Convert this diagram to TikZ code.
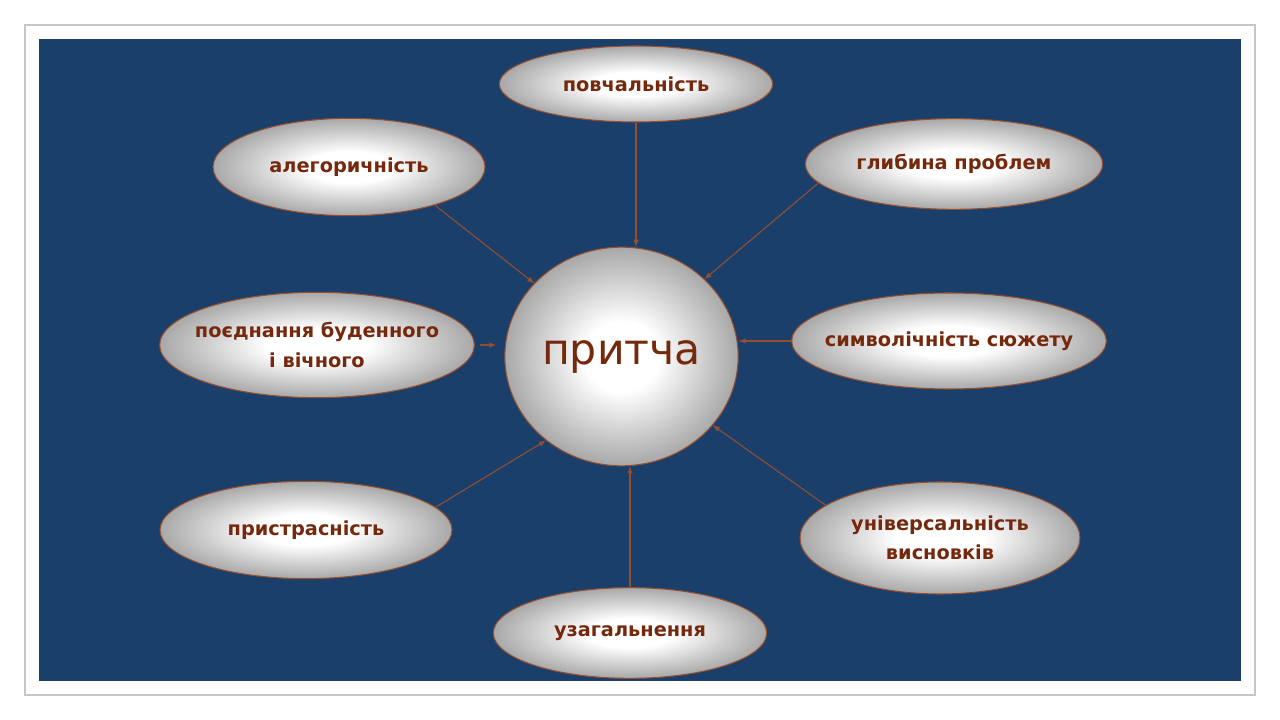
\documentclass[tikz,border=0pt]{standalone}
\usepackage{fontspec}
\setmainfont{DejaVu Sans}
\usetikzlibrary{arrows,shapes.geometric}
\definecolor{slide}{RGB}{27,63,107}
\definecolor{rust}{RGB}{118,40,12}
\definecolor{rim}{RGB}{150,78,45}
%Define shading with a wide white centre
\pgfdeclareradialshading{glow}{\pgfpoint{0bp}{0bp}}{%
  color(0bp)=(white); color(8bp)=(white); color(25bp)=(black!34); color(50bp)=(black!34)}
\tikzset{
    %Define standard arrow tip
    >=latex,
    %Define style for the outer ovals
    oval/.style={
           ellipse,
           draw=rim, line width=0.8pt,
           shading=glow,
           text=rust,
           font=\bfseries\fontsize{14.5}{22}\selectfont,
           align=center,
           inner xsep=-16pt, inner ysep=0pt},
    %Define style for the centre
    hub/.style={
           ellipse,
           draw=rim, line width=0.8pt,
           shading=glow,
           text=rust,
           font=\fontsize{32}{38}\selectfont,
           inner sep=0pt,
           minimum width=175pt, minimum height=164pt},
    % Define arrow style
    pil/.style={
           ->,
           draw=rim,
           line width=0.8pt}
}
\begin{document}
\begin{tikzpicture}[x=0.75pt,y=0.75pt]
\useasboundingbox (0,0) rectangle (1280,720);
\draw[black!22, line width=0.8pt] (25,25) rectangle (1255,695);
\fill[slide] (39,39) rectangle (1241,681);

\node[hub] (pritcha) at (621.5,363.5) {притча};

\node[oval, minimum width=205pt, minimum height=57pt] (povch) at (636,636) {повчальність};
\node[oval, minimum width=204pt, minimum height=73pt] (aleg) at (349,553) {алегоричність};
\node[oval, minimum width=223pt, minimum height=68pt] (glyb) at (954,556) {глибина проблем};
\node[oval, minimum width=236pt, minimum height=79pt] (poedn) at (317,375) {поєднання буденного\\і вічного};
\node[oval, minimum width=236pt, minimum height=72pt] (symv) at (949,379) {символічність сюжету};
\node[oval, minimum width=219pt, minimum height=73pt] (prystr) at (306,190) {пристрасність};
\node[oval, minimum width=210pt, minimum height=84pt] (univ) at (940,182) {універсальність\\висновків};
\node[oval, minimum width=205pt, minimum height=68pt] (uzag) at (630,87) {узагальнення};

% arrows into the centre
\draw[pil] (povch.south) -- (povch.south |- pritcha.north);
\draw[pil] (aleg.336) -- (pritcha.140);
\draw[pil] (glyb.188) -- (pritcha.43);
\draw[pil, shorten <=4pt, shorten >=6pt] (poedn.east) -- (poedn.east -| pritcha.west);
\draw[pil] (symv.west) -- (symv.west -| pritcha.east);
\draw[pil] (prystr.10) -- (pritcha.228);
\draw[pil] (univ.164) -- (pritcha.323);
\draw[pil] (uzag.north) -- (uzag.north |- pritcha.south);
\end{tikzpicture}
\end{document}
